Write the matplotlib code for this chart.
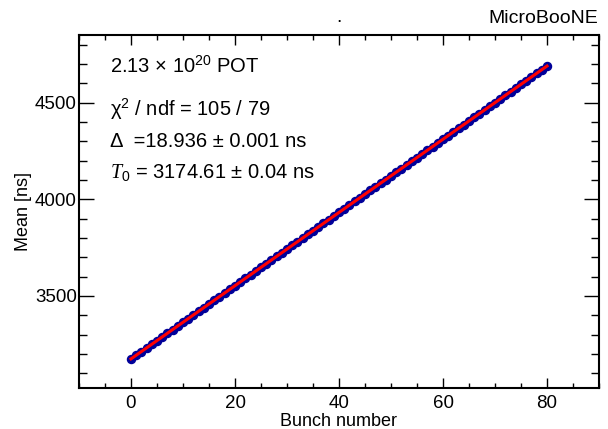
import matplotlib
matplotlib.use("Agg")
import matplotlib.pyplot as plt
from matplotlib.ticker import MultipleLocator
import numpy as np

plt.rcParams['font.family'] = ['Liberation Sans', 'DejaVu Sans']
plt.rcParams['mathtext.fontset'] = 'custom'
plt.rcParams['mathtext.rm'] = 'Liberation Sans'
plt.rcParams['mathtext.it'] = 'Liberation Serif:italic'

bunch = list(range(81))
mean_ns = [
    3174.6, 3193.5, 3212.5, 3231.4, 3250.3, 3269.3, 3288.2, 3307.2, 3326.1, 3345.0,
    3364.0, 3382.9, 3401.8, 3420.8, 3439.7, 3458.6, 3477.6, 3496.5, 3515.4, 3534.4,
    3553.3, 3572.3, 3591.2, 3610.1, 3629.1, 3648.0, 3666.9, 3685.9, 3704.8, 3723.8,
    3742.7, 3761.6, 3780.6, 3799.5, 3818.4, 3837.4, 3856.3, 3875.2, 3894.2, 3913.1,
    3932.1, 3951.0, 3969.9, 3988.9, 4007.8, 4026.7, 4045.7, 4064.6, 4083.5, 4102.5,
    4121.4, 4140.3, 4159.3, 4178.2, 4197.2, 4216.1, 4235.0, 4254.0, 4272.9, 4291.8,
    4310.8, 4329.7, 4348.6, 4367.6, 4386.5, 4405.4, 4424.4, 4443.3, 4462.3, 4481.2,
    4500.1, 4519.1, 4538.0, 4556.9, 4575.9, 4594.8, 4613.7, 4632.7, 4651.6, 4670.6,
    4689.5,
]
fit_delta = 18.936
fit_t0 = 3174.61
fit_range = [0, 80]

fig = plt.figure(figsize=(6.08, 4.29), dpi=100)
ax = fig.add_axes([79/608, 1-388/429, 520/608, (388-35)/429])

ax.plot(bunch, mean_ns, 'o', color='#000099', markersize=5.8, zorder=2)
fx = np.array(fit_range, dtype=float)
ax.plot(fx, fit_t0 + fit_delta*fx, '-', color='#ff0000', lw=2.2, zorder=3)

ax.set_xlim(-10, 90)
ax.set_ylim(3024, 4850)
ax.xaxis.set_major_locator(MultipleLocator(20))
ax.xaxis.set_minor_locator(MultipleLocator(5))
ax.yaxis.set_major_locator(MultipleLocator(500))
ax.yaxis.set_minor_locator(MultipleLocator(100))
for s in ax.spines.values():
    s.set_linewidth(1.5)
ax.tick_params(axis='x', which='major', direction='in', length=7.5, width=1.0,
               top=True, labelsize=13.5, pad=5)
ax.tick_params(axis='x', which='minor', direction='in', length=3.8, width=1.0, top=True)
ax.tick_params(axis='y', which='major', direction='in', length=11, width=1.0,
               right=True, labelsize=13.5, pad=1.5)
ax.tick_params(axis='y', which='minor', direction='in', length=5.5, width=1.0, right=True)

fig.text(339/608, 1-426.5/429, 'Bunch number', ha='center', va='baseline', fontsize=13)
ax.set_ylabel('Mean [ns]', fontsize=13, labelpad=2)

tx = (110-79)/520
fs = 14.5
ax.text(tx, (388-73)/353, r'2.13 $\times$ 10$^{20}$ POT', transform=ax.transAxes,
        fontsize=fs, va='baseline')
ax.text(tx, (388-116)/353, 'χ$^{2}$ / ndf = 105 / 79', transform=ax.transAxes,
        fontsize=fs, va='baseline')
ax.text(tx, (388-147)/353, 'Δ  =18.936 ± 0.001 ns', transform=ax.transAxes,
        fontsize=fs, va='baseline')
ax.text(tx, (388-178)/353, r'$T_0$ = 3174.61 ± 0.04 ns', transform=ax.transAxes,
        fontsize=fs, va='baseline')

fig.text(598/608, 1-23/429, 'MicroBooNE', ha='right', va='baseline', fontsize=14)
fig.text(339/608, 1-22/429, '.', ha='center', va='baseline', fontsize=14)

fig.savefig('out.png', dpi=100)
